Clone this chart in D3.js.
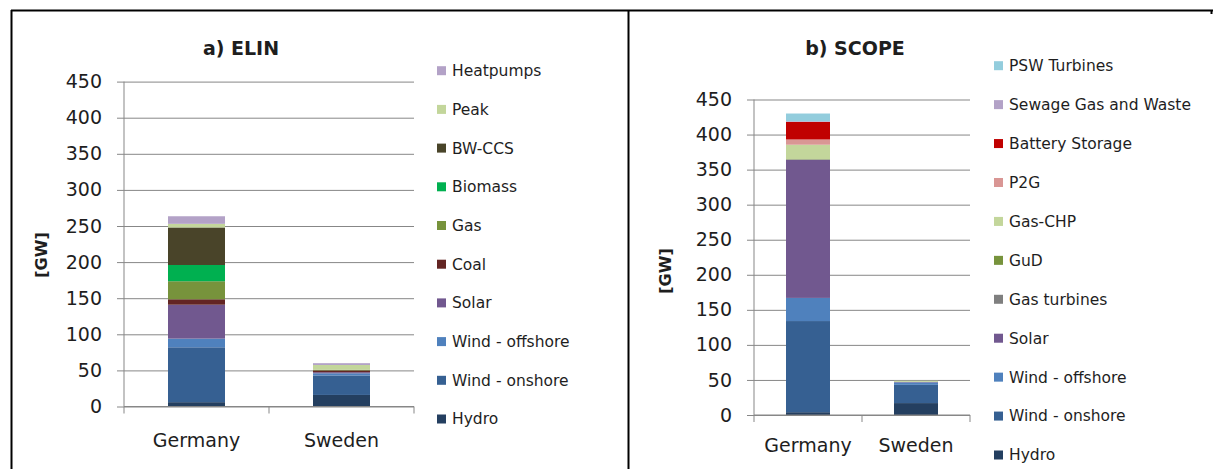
<!DOCTYPE html>
<html>
<head>
<meta charset="utf-8">
<script src="https://cdn.jsdelivr.net/npm/d3@7"></script>
<style>
  html, body { margin: 0; padding: 0; background: #fff; }
  svg { display: block; }
  text { font-family: "DejaVu Sans", sans-serif; fill: #1e1e1e; }
</style>
</head>
<body>
<svg id="chart" width="1215" height="469"></svg>
<script>
// ---------- DATA ----------
const categories = ["Germany", "Sweden"];
const yTicks = [0, 50, 100, 150, 200, 250, 300, 350, 400, 450];

const elinSeries = ["Hydro", "Wind - onshore", "Wind - offshore", "Solar", "Coal", "Gas", "Biomass", "BW-CCS", "Peak", "Heatpumps"];
const elinGermany = [6, 76, 12, 47, 7.5, 25, 22.5, 52, 5, 10.5];
const elinSweden  = [16, 27, 3, 1.5, 2.5, 1, 0, 0, 6.5, 2.5];
const elinColors  = ["#243f60", "#366092", "#4f81bd", "#71588f", "#632523", "#77933c", "#00b050", "#494429", "#c3d69b", "#b3a2c7"];

const scopeSeries = ["Hydro", "Wind - onshore", "Wind - offshore", "Solar", "Gas turbines", "GuD", "Gas-CHP", "P2G", "Battery Storage", "Sewage Gas and Waste", "PSW Turbines"];
const scopeGermany = [4, 130, 33, 197, 0.5, 0.5, 20.5, 7.5, 25, 1, 11];
const scopeSweden  = [17, 26, 3.5, 0.8, 0, 0, 1.5, 0, 0, 0, 0];
const scopeColors  = ["#243f60", "#366092", "#4f81bd", "#71588f", "#7f7f7f", "#77933c", "#c3d69b", "#d99694", "#c00000", "#b3a2c7", "#93cddd"];

// ---------- DRAW ----------
const svg = d3.select("#chart");

// table borders
const border = svg.append("g").attr("stroke", "#000").attr("stroke-width", 2);
border.append("line").attr("x1", 11).attr("x2", 1213).attr("y1", 10.5).attr("y2", 10.5);
border.append("line").attr("x1", 11.5).attr("x2", 11.5).attr("y1", 10).attr("y2", 469);
border.append("line").attr("x1", 628.5).attr("x2", 628.5).attr("y1", 10).attr("y2", 469);
border.append("line").attr("x1", 1211.5).attr("x2", 1211.5).attr("y1", 10).attr("y2", 14);

function drawPanel(cfg) {
  const g = svg.append("g");
  const x = d3.scaleBand().domain(categories).range([cfg.x0, cfg.x1]).padding(0);
  const y = d3.scaleLinear().domain([0, 450]).range([cfg.yZero, cfg.yTop]);
  const barW = cfg.barW;

  // gridlines
  g.append("g")
    .attr("transform", `translate(${cfg.x0},0)`)
    .call(d3.axisLeft(y).tickValues(yTicks).tickSize(-(cfg.x1 - cfg.x0)).tickFormat(""))
    .call(s => s.select(".domain").remove())
    .call(s => s.selectAll("line").attr("stroke", "#878787").attr("stroke-width", 1));

  // stacked bars
  const rows = categories.map((c, ci) => {
    const r = { cat: c };
    cfg.series.forEach((s, si) => r[s] = cfg.values[ci][si]);
    return r;
  });
  const stack = d3.stack().keys(cfg.series)(rows);
  g.append("g").selectAll("g").data(stack).join("g")
    .attr("fill", (d, i) => cfg.colors[i])
    .selectAll("rect").data(d => d).join("rect")
    .attr("x", d => x(d.data.cat) + (x.bandwidth() - barW) / 2)
    .attr("width", barW)
    .attr("y", d => y(d[1]))
    .attr("height", d => Math.max(0, y(d[0]) - y(d[1])));

  // y axis
  const ya = g.append("g")
    .attr("transform", `translate(${cfg.x0},0)`)
    .call(d3.axisLeft(y).tickValues(yTicks).tickSize(7).tickPadding(15));
  ya.select(".domain").attr("stroke", "#878787").attr("d", `M0,${cfg.yZero}V${cfg.yTop}`);
  ya.selectAll("line").attr("stroke", "#878787");
  ya.selectAll("text").attr("font-size", 19).attr("font-family", "DejaVu Sans").attr("fill", "#1e1e1e");

  // x axis
  const xa = g.append("g")
    .attr("transform", `translate(0,${cfg.yZero})`)
    .call(d3.axisBottom(x).tickSize(0).tickPadding(cfg.catPad));
  xa.select(".domain").attr("stroke", "#878787").attr("d", `M${cfg.x0},0H${cfg.x1}`);
  xa.selectAll("text").attr("font-size", 19).attr("font-family", "DejaVu Sans").attr("fill", "#1e1e1e");
  const bounds = [cfg.x0].concat(categories.map(c => x(c) + x.bandwidth()));
  g.append("g").selectAll("line").data(bounds).join("line")
    .attr("x1", d => d).attr("x2", d => d)
    .attr("y1", cfg.yZero).attr("y2", cfg.yZero + 7)
    .attr("stroke", "#878787");

  // title
  g.append("text").attr("x", cfg.titleX).attr("y", 55)
    .attr("text-anchor", "middle").attr("font-weight", "bold").attr("font-size", 19)
    .attr("font-family", "'DejaVu Sans Condensed', 'DejaVu Sans', sans-serif")
    .text(cfg.title);

  // y label
  g.append("text")
    .attr("transform", `translate(${cfg.ylabX},${cfg.ylabY}) rotate(-90)`)
    .attr("text-anchor", "middle").attr("font-weight", "bold").attr("font-size", 16)
    .text("[GW]");

  // legend (reverse order)
  const leg = g.append("g");
  const items = cfg.series.map((s, i) => ({ s, c: cfg.colors[i] })).reverse();
  items.forEach((it, i) => {
    const cy = cfg.legY + i * cfg.legStep;
    leg.append("rect").attr("x", cfg.legX).attr("y", cy - 4.5).attr("width", 9).attr("height", 9).attr("fill", it.c);
    leg.append("text").attr("x", cfg.legX + 15).attr("y", cy).attr("dy", "0.35em")
      .attr("font-size", 15.5).text(it.s);
  });
}

drawPanel({
  title: "a) ELIN", titleX: 241,
  series: elinSeries, values: [elinGermany, elinSweden], colors: elinColors,
  x0: 124, x1: 414, yZero: 406.5, yTop: 81.6, barW: 57, catPad: 27,
  ylabX: 47, ylabY: 255,
  legX: 437, legY: 70.7, legStep: 38.7
});

drawPanel({
  title: "b) SCOPE", titleX: 855,
  series: scopeSeries, values: [scopeGermany, scopeSweden], colors: scopeColors,
  x0: 754, x1: 970, yZero: 415, yTop: 99.5, barW: 44, catPad: 24,
  ylabX: 671, ylabY: 271,
  legX: 994, legY: 65.7, legStep: 38.93
});
</script>
</body>
</html>
